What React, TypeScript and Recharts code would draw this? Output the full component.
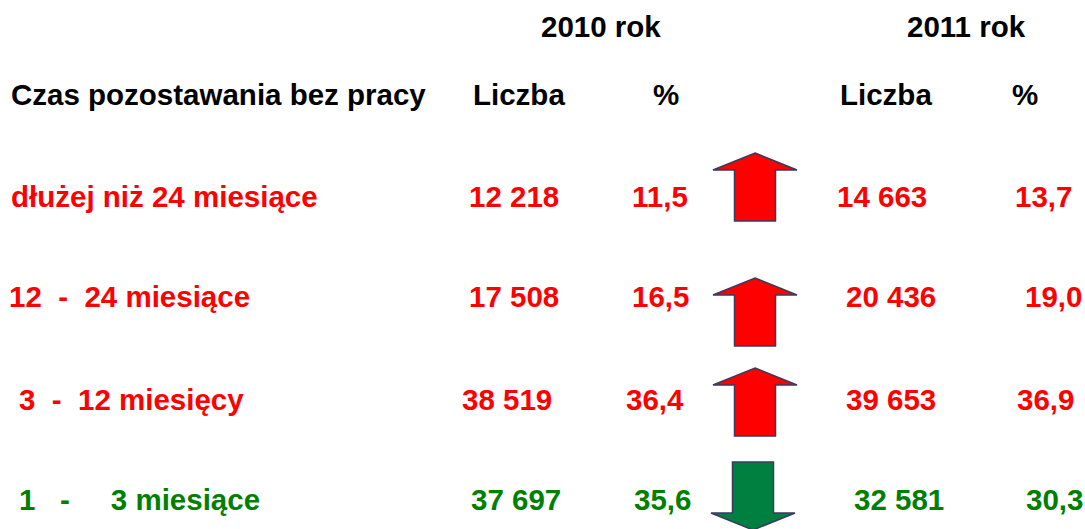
import { ScatterChart, Scatter, XAxis, YAxis } from 'recharts'

// data
const periods = ['dłużej niż 24 miesiące', '12\u00A0\u00A0-\u00A0\u00A024 miesiące', '3\u00A0\u00A0-\u00A0\u00A012 miesięcy', '1\u00A0\u00A0\u00A0-\u00A0\u00A0\u00A0\u00A0\u00A03 miesiące']
const count2010 = [12218, 17508, 38519, 37697]
const pct2010 = [11.5, 16.5, 36.4, 35.6]
const count2011 = [14663, 20436, 39653, 32581]
const pct2011 = [13.7, 19.0, 36.9, 30.3]
const years = ['2010 rok', '2011 rok']
const colHeads = ['Liczba', '%']
const rowHead = 'Czas pozostawania bez pracy'

// layout (pixels in chart space)
const W = 1085
const H = 529
const FONT = '"Liberation Sans", Arial, sans-serif'
const FS = 29.5
const rowBase = [207, 307, 410, 510]
const labelX = [11, 9, 19, 19]
const c2010X = [469, 469, 462, 471]
const p2010X = [632, 632, 626, 634]
const c2011X = [837, 846, 846, 854]
const p2011X = [1015, 1025, 1017, 1026]
const arrowX = [755, 755, 755, 753]
const arrowY = [187, 312, 402, 496]
const yearX = [541, 907]
const headX = [[473, 653], [840, 1012]]

const RED = '#ff0000'
const GREEN = '#008000'

const fmtCount = (v: number) => v.toLocaleString('en-US').replace(/,/g, ' ')
const fmtPct = (v: number) => v.toFixed(1).replace('.', ',')

type Pt = { x: number; y: number; text?: string; color?: string; up?: boolean }

const rise = count2010.map((v, i) => count2011[i] > v)
const rowColor = rise.map(r => (r ? RED : GREEN))

const textPoints: Pt[] = [
  ...years.map((t, i) => ({ x: yearX[i], y: 37, text: t, color: '#000' })),
  { x: 11, y: 105, text: rowHead, color: '#000' },
  ...headX.flatMap(xs => xs.map((x, j) => ({ x, y: 105, text: colHeads[j], color: '#000' }))),
  ...periods.map((t, i) => ({ x: labelX[i], y: rowBase[i], text: t, color: rowColor[i] })),
  ...count2010.map((v, i) => ({ x: c2010X[i], y: rowBase[i], text: fmtCount(v), color: rowColor[i] })),
  ...pct2010.map((v, i) => ({ x: p2010X[i], y: rowBase[i], text: fmtPct(v), color: rowColor[i] })),
  ...count2011.map((v, i) => ({ x: c2011X[i], y: rowBase[i], text: fmtCount(v), color: rowColor[i] })),
  ...pct2011.map((v, i) => ({ x: p2011X[i], y: rowBase[i], text: fmtPct(v), color: rowColor[i] })),
]

const arrowPoints: Pt[] = rise.map((up, i) => ({ x: arrowX[i], y: arrowY[i], up }))

function TextShape(props: any) {
  const { cx, cy, payload } = props
  return (
    <text x={cx} y={cy} fill={payload.color} fontFamily={FONT} fontWeight="bold" fontSize={FS} textAnchor="start">
      {payload.text}
    </text>
  )
}

function ArrowShape(props: any) {
  const { cx, cy, payload } = props
  const hw = 42
  const sw = 20.5
  const h = 34
  const head = 17
  const s = payload.up ? 1 : -1
  const pts = [
    [cx, cy - s * h],
    [cx + hw, cy - s * head],
    [cx + sw, cy - s * head],
    [cx + sw, cy + s * h],
    [cx - sw, cy + s * h],
    [cx - sw, cy - s * head],
    [cx - hw, cy - s * head],
  ]
  return (
    <polygon
      points={pts.map(p => p.join(',')).join(' ')}
      fill={payload.up ? '#ff0000' : '#008040'}
      stroke="#3a3a5e"
      strokeWidth={1.5}
      strokeLinejoin="miter"
    />
  )
}

export default function App() {
  return (
    <div style={{ width: W, height: H, background: '#fff' }}>
      <style>{'body{margin:0}'}</style>
      <ScatterChart width={W} height={H} margin={{ top: 0, right: 0, bottom: 0, left: 0 }}>
        <XAxis type="number" dataKey="x" domain={[0, W]} hide />
        <YAxis type="number" dataKey="y" domain={[0, H]} reversed hide />
        <Scatter data={arrowPoints} shape={ArrowShape} isAnimationActive={false} />
        <Scatter data={textPoints} shape={TextShape} isAnimationActive={false} />
      </ScatterChart>
    </div>
  )
}
